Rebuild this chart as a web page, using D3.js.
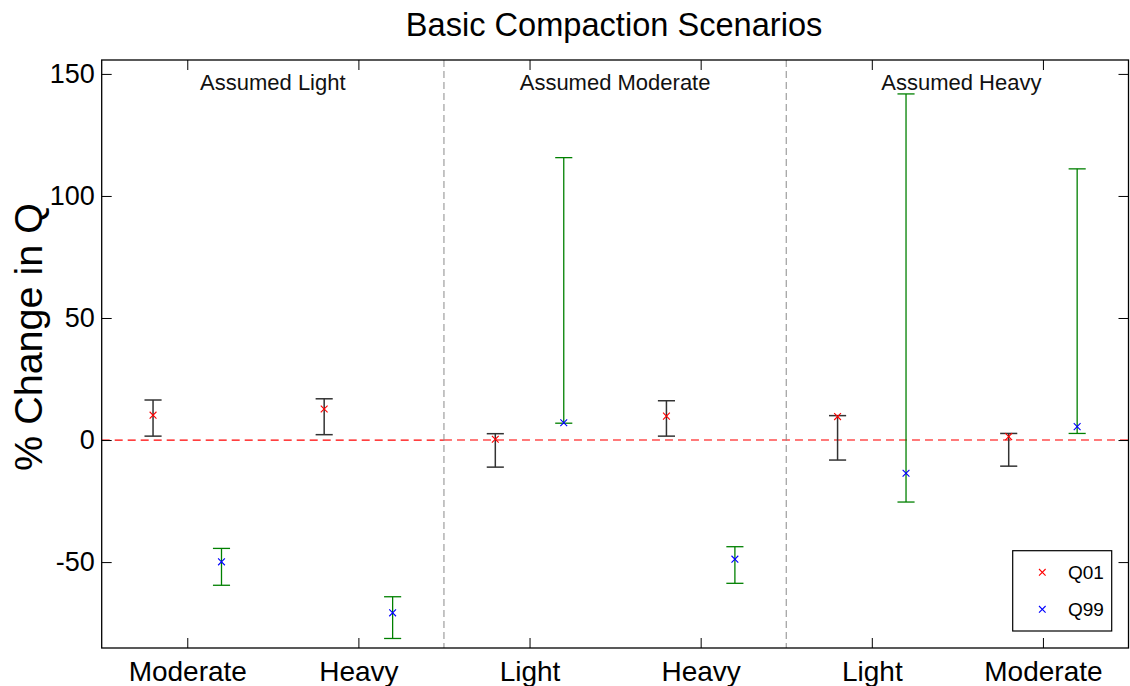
<!DOCTYPE html>
<html>
<head>
<meta charset="utf-8">
<script src="https://cdn.jsdelivr.net/npm/d3@7"></script>
<style>
  html, body { margin: 0; padding: 0; background: #fff; }
  svg { display: block; font-family: "Liberation Sans", Arial, sans-serif; }
</style>
</head>
<body>
<svg id="chart" width="1130" height="686"></svg>
<script>
// ---- data ----
const categories = ["Moderate", "Heavy", "Light", "Heavy", "Light", "Moderate"];
const groupLabels = ["Assumed Light", "Assumed Moderate", "Assumed Heavy"];
const seriesNames = ["Q01", "Q99"];
const q01Mid  = [10.2, 12.7, 0.3, 9.8, 9.6, 1.4];
const q01Low  = [1.6, 2.2, -11.1, 1.6, -8.2, -10.7];
const q01High = [16.4, 16.9, 2.6, 16.1, 10.0, 2.7];
const q99Mid  = [-49.9, -70.8, 7.1, -48.8, -13.6, 5.5];
const q99Low  = [-59.5, -81.3, 6.9, -58.7, -25.4, 2.7];
const q99High = [-44.4, -64.2, 115.7, -43.7, 141.8, 111.1];
const yTicks = [-50, 0, 50, 100, 150];
const yDomain = [-85.2, 155.7];

(function () {
// ---- layout ----
const svg = d3.select("#chart");
const pL = 101.7, pR = 1128.5, pT = 60, pB = 648;
const x = d3.scaleLinear().domain([0.5, categories.length + 0.5]).range([pL, pR]);
const y = d3.scaleLinear().domain(yDomain).range([pB, pT]);
const positions = categories.map((c, i) => i + 1);
const offset = 0.2, capHalf = 0.05;

const series = [
  { name: seriesNames[0], mid: q01Mid, low: q01Low, high: q01High, dx: -offset, bar: "#333", barW: 1.5, mark: "#ff0000" },
  { name: seriesNames[1], mid: q99Mid, low: q99Low, high: q99High, dx: offset, bar: "#008000", barW: 1.3, mark: "#0000ff" }
];

// title
svg.append("text").attr("x", (pL + pR) / 2 - 1).attr("y", 36)
  .attr("text-anchor", "middle").attr("font-size", 32.6).attr("fill", "#000")
  .text("Basic Compaction Scenarios");

// y label
svg.append("text").attr("transform", `translate(42,337) rotate(-90)`)
  .attr("text-anchor", "middle").attr("font-size", 39.5).attr("fill", "#000")
  .text("% Change in Q");

const plot = svg.append("g");

// zero reference line (first group drawn stronger, as in the reference)
plot.append("line").attr("x1", pL).attr("x2", x(2.5)).attr("y1", y(0)).attr("y2", y(0))
  .attr("stroke", "#ff0000").attr("stroke-width", 1.3).attr("stroke-dasharray", "8,5");
plot.append("line").attr("x1", x(2.5)).attr("x2", pR).attr("y1", y(0)).attr("y2", y(0))
  .attr("stroke", "#ff4d4d").attr("stroke-width", 1.4).attr("stroke-dasharray", "8,5");

// group separators
[2.5, 4.5].forEach(v => {
  plot.append("line").attr("x1", x(v)).attr("x2", x(v)).attr("y1", pT).attr("y2", pB)
    .attr("stroke", "#8a8a8a").attr("stroke-width", 1).attr("stroke-dasharray", "7,4");
});

// group labels
groupLabels.forEach((g, k) => {
  plot.append("text").attr("x", x(2 * k + 1.5) + (k === 2 ? 4 : 0)).attr("y", 90)
    .attr("text-anchor", "middle").attr("font-size", 22).attr("fill", "#111").text(g);
});

// error bars + markers
series.forEach(s => {
  const g = plot.append("g");
  positions.forEach((p, i) => {
    const cx = p + s.dx;
    g.append("line").attr("x1", x(cx)).attr("x2", x(cx)).attr("y1", y(s.low[i])).attr("y2", y(s.high[i]))
      .attr("stroke", s.bar).attr("stroke-width", s.barW);
    [s.low[i], s.high[i]].forEach(v => {
      g.append("line").attr("x1", x(cx - capHalf)).attr("x2", x(cx + capHalf)).attr("y1", y(v)).attr("y2", y(v))
        .attr("stroke", s.bar).attr("stroke-width", s.barW);
    });
  });
  positions.forEach((p, i) => {
    const px = x(p + s.dx), py = y(s.mid[i]), r = 3.4;
    g.append("path").attr("d", `M${px - r},${py - r}L${px + r},${py + r}M${px - r},${py + r}L${px + r},${py - r}`)
      .attr("stroke", s.mark).attr("stroke-width", 1.1).attr("fill", "none");
  });
});

// axes
const axisStyle = sel => {
  sel.select(".domain").remove();
  sel.selectAll("line").attr("stroke", "#000").attr("stroke-width", 1);
  sel.selectAll("text").attr("fill", "#000").attr("font-family", "Liberation Sans, Arial, sans-serif");
};
svg.append("g").attr("transform", `translate(${pL},0)`)
  .call(d3.axisLeft(y).tickValues(yTicks).tickSizeInner(-10).tickSizeOuter(0).tickPadding(7)
    .tickFormat(d => String(d)))
  .call(axisStyle).selectAll("text").attr("font-size", 27);
svg.append("g").attr("transform", `translate(${pR},0)`)
  .call(d3.axisRight(y).tickValues(yTicks).tickSizeInner(-10).tickSizeOuter(0).tickFormat(""))
  .call(axisStyle);
svg.append("g").attr("transform", `translate(0,${pB})`)
  .call(d3.axisBottom(x).tickValues(positions).tickSizeInner(-10).tickSizeOuter(0).tickPadding(13)
    .tickFormat((d, i) => categories[i]))
  .call(axisStyle).selectAll("text").attr("font-size", 28);
svg.append("g").attr("transform", `translate(0,${pT})`)
  .call(d3.axisTop(x).tickValues(positions).tickSizeInner(-10).tickSizeOuter(0).tickFormat(""))
  .call(axisStyle);

// box
svg.append("rect").attr("x", pL).attr("y", pT).attr("width", pR - pL).attr("height", pB - pT)
  .attr("fill", "none").attr("stroke", "#000").attr("stroke-width", 1.3);

// legend
const lg = svg.append("g");
lg.append("rect").attr("x", 1012.7).attr("y", 550.7).attr("width", 99).attr("height", 80.3)
  .attr("fill", "#fff").attr("stroke", "#000").attr("stroke-width", 1.2);
series.forEach((s, k) => {
  const ly = 572.3 + k * 37, lx = 1042.3, r = 3.3;
  lg.append("path").attr("d", `M${lx - r},${ly - r}L${lx + r},${ly + r}M${lx - r},${ly + r}L${lx + r},${ly - r}`)
    .attr("stroke", s.mark).attr("stroke-width", 1.1).attr("fill", "none");
  lg.append("text").attr("x", 1068).attr("y", ly + 7).attr("font-size", 19).attr("fill", "#000").text(s.name);
});
})();
</script>
</body>
</html>
